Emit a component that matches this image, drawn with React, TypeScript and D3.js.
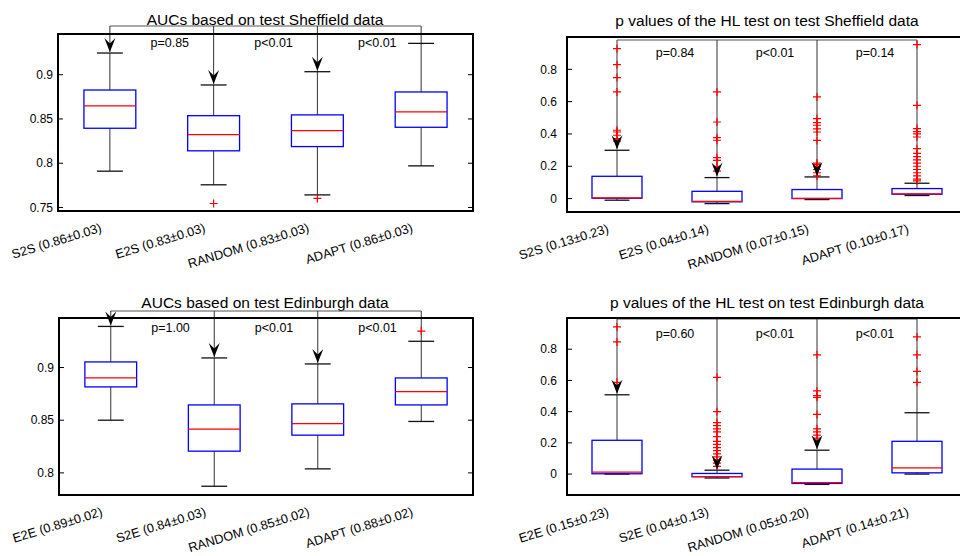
import React from "react";
import * as d3 from "d3";

const FONT = "'Liberation Sans', Arial, Helvetica, sans-serif";

// box stats per method: [lower whisker, Q1, median, Q3, upper whisker]
const aucShefStats = [
  [0.791, 0.8395, 0.8647, 0.8827, 0.9245],
  [0.7756, 0.814, 0.8323, 0.8537, 0.8884],
  [0.7642, 0.8188, 0.8368, 0.8546, 0.9034],
  [0.797, 0.8406, 0.8579, 0.8805, 0.9354],
];
const aucShefOutliers = [[], [0.7545], [0.7602], []];
const aucShefLabels = ["S2S (0.86±0.03)", "E2S (0.83±0.03)", "RANDOM (0.83±0.03)", "ADAPT (0.86±0.03)"];
const aucShefP = ["p=0.85", "p<0.01", "p<0.01"];
const aucShefTicks = [0.75, 0.8, 0.85, 0.9];

const hlShefStats = [
  [-0.01, 0.002, 0.004, 0.138, 0.299],
  [-0.031, -0.02, -0.017, 0.045, 0.13],
  [-0.006, 0.0, 0.001, 0.056, 0.134],
  [0.019, 0.027, 0.029, 0.062, 0.095],
];
const hlShefOutliers = [
  [0.928, 0.829, 0.749, 0.66, 0.423, 0.412, 0.392, 0.371, 0.355],
  [0.66, 0.474, 0.377, 0.361, 0.254, 0.237, 0.2, 0.17],
  [0.629, 0.495, 0.47, 0.454, 0.432, 0.412, 0.36, 0.22, 0.21, 0.2, 0.18, 0.16, 0.14],
  [0.953, 0.577, 0.433, 0.415, 0.4, 0.381, 0.309, 0.28, 0.26, 0.24, 0.22, 0.2, 0.18, 0.16, 0.14, 0.12, 0.11],
];
const hlShefLabels = ["S2S (0.13±0.23)", "E2S (0.04±0.14)", "RANDOM (0.07±0.15)", "ADAPT (0.10±0.17)"];
const hlShefP = ["p=0.84", "p<0.01", "p=0.14"];

const aucEdinStats = [
  [0.85, 0.8816, 0.8901, 0.9053, 0.939],
  [0.7873, 0.8206, 0.8415, 0.8645, 0.9091],
  [0.8038, 0.8358, 0.8468, 0.8655, 0.9034],
  [0.8488, 0.8645, 0.8772, 0.8901, 0.9249],
];
const aucEdinOutliers = [[], [], [], [0.9346]];
const aucEdinLabels = ["E2E (0.89±0.02)", "S2E (0.84±0.03)", "RANDOM (0.85±0.02)", "ADAPT (0.88±0.02)"];
const aucEdinP = ["p=1.00", "p<0.01", "p<0.01"];
const aucEdinTicks = [0.8, 0.85, 0.9];

const hlEdinStats = [
  [0.0, 0.002, 0.0127, 0.2166, 0.508],
  [-0.025, -0.017, -0.016, 0.004, 0.025],
  [-0.066, -0.06, -0.055, 0.032, 0.153],
  [0.0, 0.008, 0.04, 0.21, 0.393],
];
const hlEdinOutliers = [
  [0.943, 0.847, 0.588],
  [0.62, 0.4, 0.33, 0.31, 0.29, 0.27, 0.24, 0.21, 0.19, 0.17, 0.15, 0.13, 0.11, 0.09, 0.07, 0.05],
  [0.764, 0.533, 0.503, 0.492, 0.382, 0.29, 0.27, 0.25, 0.23],
  [0.879, 0.764, 0.658, 0.588],
];
const hlEdinLabels = ["E2E (0.15±0.23)", "S2E (0.04±0.13)", "RANDOM (0.05±0.20)", "ADAPT (0.14±0.21)"];
const hlEdinP = ["p=0.60", "p<0.01", "p<0.01"];

const hlTicks = [0, 0.2, 0.4, 0.6, 0.8];
const arrowFlags = [true, true, true, false];

const panels = [
  {
    title: "AUCs based on test Sheffield data", stats: aucShefStats, outliers: aucShefOutliers,
    labels: aucShefLabels, pTexts: aucShefP, ticks: aucShefTicks, domain: [0.746, 0.946],
    left: 58, right: 473, top: 34, bottom: 211, titleX: 265, titleY: 25, bracketY: 26, pY: 47, tickGap: 5,
  },
  {
    title: "p values of the HL test on test Sheffield data", stats: hlShefStats, outliers: hlShefOutliers,
    labels: hlShefLabels, pTexts: hlShefP, ticks: hlTicks, domain: [-0.083, 1.0],
    left: 567, right: 967, top: 37, bottom: 212, titleX: 767, titleY: 26, bracketY: 40, pY: 57, tickGap: 10,
  },
  {
    title: "AUCs based on test Edinburgh data", stats: aucEdinStats, outliers: aucEdinOutliers,
    labels: aucEdinLabels, pTexts: aucEdinP, ticks: aucEdinTicks, domain: [0.779, 0.947],
    left: 59, right: 473, top: 318, bottom: 495, titleX: 265, titleY: 308, bracketY: 311, pY: 332, tickGap: 5,
  },
  {
    title: "p values of the HL test on test Edinburgh data", stats: hlEdinStats, outliers: hlEdinOutliers,
    labels: hlEdinLabels, pTexts: hlEdinP, ticks: hlTicks, domain: [-0.134, 1.0],
    left: 567, right: 967, top: 318, bottom: 495, titleX: 767, titleY: 308, bracketY: 319, pY: 338, tickGap: 10,
  },
];

function Panel({ p }: { p: any }) {
  const x = d3.scaleLinear().domain([0.5, 4.5]).range([p.left, p.right]);
  const y = d3.scaleLinear().domain(p.domain).range([p.bottom, p.top]);
  const bw = x(1.25) - x(1); // half box width (box = 0.5 units)
  const cw = x(1.125) - x(1); // half cap width
  const cx0 = x(1);
  const cx3 = x(4);
  return (
    <g>
      <text x={p.titleX} y={p.titleY} textAnchor="middle" fontSize={15.5} fill="#000">{p.title}</text>
      {/* annotation bracket */}
      <line x1={cx0} x2={cx3} y1={p.bracketY} y2={p.bracketY} stroke="#555" strokeWidth={1} />
      {p.stats.map((s: number[], i: number) => {
        const cx = x(i + 1);
        const [lo, q1, med, q3, hi] = s;
        const tipY = y(hi) - 1;
        return (
          <g key={i}>
            {/* annotation vertical */}
            <line x1={cx} x2={cx} y1={p.bracketY} y2={arrowFlags[i] ? tipY : y(hi)} stroke="#333" strokeWidth={1} />
            {/* whiskers */}
            <line x1={cx} x2={cx} y1={y(q3)} y2={y(hi)} stroke="#333" strokeWidth={1} />
            <line x1={cx} x2={cx} y1={y(q1)} y2={y(lo)} stroke="#333" strokeWidth={1} />
            <line x1={cx - cw} x2={cx + cw} y1={y(hi)} y2={y(hi)} stroke="#111" strokeWidth={1.3} />
            <line x1={cx - cw} x2={cx + cw} y1={y(lo)} y2={y(lo)} stroke="#111" strokeWidth={1.3} />
            {/* outliers */}
            {p.outliers[i].map((o: number, j: number) => (
              <path key={j} d={`M${cx - 4},${y(o)}H${cx + 4}M${cx},${y(o) - 4}V${y(o) + 4}`}
                stroke="#ff0000" strokeWidth={1.2} fill="none" />
            ))}
            {/* box */}
            <rect x={cx - bw} y={y(q3)} width={2 * bw} height={Math.max(0.5, y(q1) - y(q3))}
              fill="none" stroke="#0000ff" strokeWidth={1.3} />
            <line x1={cx - bw} x2={cx + bw} y1={y(med)} y2={y(med)} stroke="#ff0000" strokeWidth={1.3} />
            {arrowFlags[i] && (
              <path d={`M${cx},${tipY}L${cx - 5.5},${tipY - 14}L${cx},${tipY - 8.5}L${cx + 5.5},${tipY - 14}Z`} fill="#000" />
            )}
            {/* x label */}
            <text transform={`translate(${cx - 7.5},${p.bottom + 20.5}) rotate(-17)`} textAnchor="end"
              fontSize={12.8} fill="#000">{p.labels[i]}</text>
          </g>
        );
      })}
      {p.pTexts.map((t: string, i: number) => (
        <text key={i} x={x(i + 1.5) + 8} y={p.pY} textAnchor="middle" fontSize={12.5} fill="#000">{t}</text>
      ))}
      {/* y ticks */}
      {p.ticks.map((t: number) => (
        <g key={t}>
          <line x1={p.left} x2={p.left + 5} y1={y(t)} y2={y(t)} stroke="#000" strokeWidth={1} />
          <line x1={p.right} x2={p.right - 5} y1={y(t)} y2={y(t)} stroke="#000" strokeWidth={1} />
          <text x={p.left - p.tickGap} y={y(t)} dy="0.35em" textAnchor="end" fontSize={12} fill="#000">{String(t)}</text>
        </g>
      ))}
      {/* axes box */}
      <rect x={p.left} y={p.top} width={p.right - p.left} height={p.bottom - p.top}
        fill="none" stroke="#000" strokeWidth={2} />
    </g>
  );
}

export default function App() {
  return (
    <svg width={960} height={556} viewBox="0 0 960 556"
      style={{ position: "absolute", left: 0, top: 0, background: "#fff", fontFamily: FONT }}>
      <rect x={0} y={0} width={960} height={556} fill="#fff" />
      {panels.map((p, i) => <Panel key={i} p={p} />)}
    </svg>
  );
}
